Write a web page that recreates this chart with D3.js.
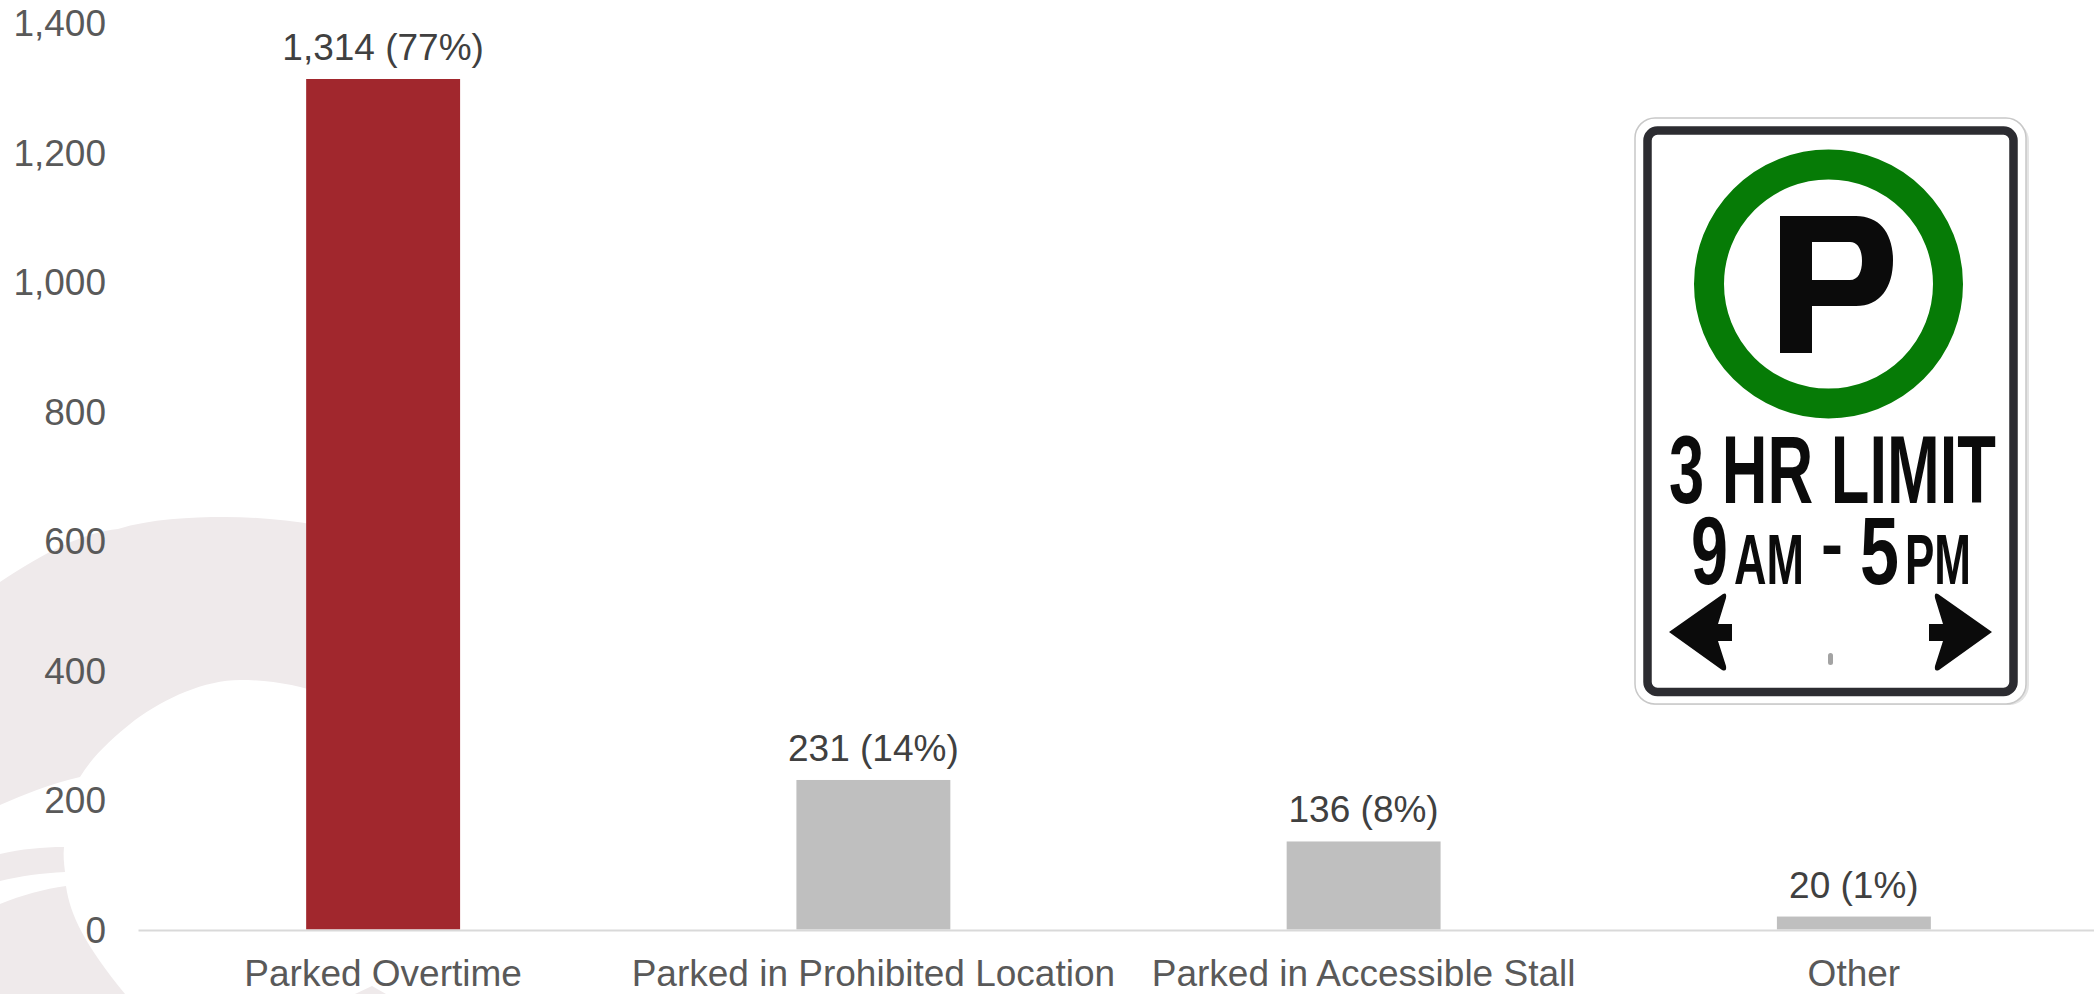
<!DOCTYPE html>
<html>
<head>
<meta charset="utf-8">
<title>Parking violations by type</title>
<script src="https://cdn.jsdelivr.net/npm/d3@7/dist/d3.min.js"></script>
<style>
  html, body { margin: 0; padding: 0; background: #fff; overflow: hidden; }
  svg { display: block; }
  text { font-family: "Liberation Sans", Arial, sans-serif; }
</style>
</head>
<body>
<svg id="chart" width="2094" height="994"></svg>
<script>
// Violation counts by type
const categories = ["Parked Overtime", "Parked in Prohibited Location", "Parked in Accessible Stall", "Other"];
const counts = [1314, 231, 136, 20];
const shares = [77, 14, 8, 1];
const highlighted = ["Parked Overtime"];
const valueTicks = [0, 200, 400, 600, 800, 1000, 1200, 1400];

// Parking sign wording
const signLines = [
  { text: "3 HR LIMIT", x: 1669, end: 1996, base: 502.5, size: 97 },
  { text: "9", x: 1691, end: 1728, base: 584, size: 96 },
  { text: "AM", x: 1734, end: 1804, base: 583.5, size: 70 },
  { text: "-", x: 1821, end: 1843, base: 568, size: 70 },
  { text: "5", x: 1860, end: 1899, base: 584, size: 96 },
  { text: "PM", x: 1905, end: 1971, base: 583.5, size: 70 }
];

const svg = d3.select("#chart");
const plot = { left: 138, right: 2099, baseline: 929.5, topValue: 1314, topY: 79 };
const fontSize = 37;

const x = d3.scaleBand().domain(categories).range([plot.left, plot.right]).paddingInner(0.686).paddingOuter(0.343);
const y = d3.scaleLinear().domain([0, plot.topValue]).range([plot.baseline, plot.topY]);

// Pale swirl watermark in the lower-left corner
const swirl = svg.append("g").attr("fill", "#efeaeb");
swirl.append("path").attr("d",
  "M0,582 C45,552 85,532 118,529 C150,519 190,517 225,517 C275,517 330,525 380,540 " +
  "L380,722 C345,700 300,680 240,680 C205,680 165,698 135,720 C110,740 92,757 80,777 " +
  "C50,784 25,794 0,805 Z");
swirl.append("path").attr("d",
  "M0,854 C22,849 42,847 64,847 C63,855 64,864 65,872 C42,873 20,876 0,881 Z");
swirl.append("path").attr("d",
  "M0,904 C22,895 44,889 66,886 C70,915 85,945 125,994 L0,994 Z");
swirl.append("path").attr("d", "M355,994 L372,986 L386,994 Z");

// Bars
svg.append("g").selectAll("rect").data(categories).join("rect")
  .attr("x", d => x(d))
  .attr("width", x.bandwidth())
  .attr("y", (d, i) => y(counts[i]))
  .attr("height", (d, i) => y(0) - y(counts[i]))
  .attr("fill", d => highlighted.includes(d) ? "#a1272d" : "#bfbfbf");

// Category axis
const xAxis = svg.append("g")
  .attr("transform", `translate(0,${plot.baseline + 0.5})`)
  .call(d3.axisBottom(x).tickSize(0).tickPadding(0));
xAxis.select(".domain").attr("stroke", "#d9d9d9").attr("stroke-width", 2);
xAxis.selectAll("text")
  .attr("y", 56).attr("dy", 0)
  .attr("font-size", fontSize).attr("fill", "#595959");

// Value axis
const yAxis = svg.append("g")
  .attr("transform", "translate(106,0)")
  .call(d3.axisLeft(y).tickValues(valueTicks).tickFormat(d3.format(",")).tickSize(0).tickPadding(0));
yAxis.select(".domain").remove();
yAxis.selectAll("text")
  .attr("x", 0).attr("dy", 12.5)
  .attr("font-size", fontSize).attr("fill", "#595959");

// Value labels above each bar
svg.append("g").selectAll("text").data(categories).join("text")
  .attr("x", d => x(d) + x.bandwidth() / 2)
  .attr("y", (d, i) => y(counts[i]) - 19)
  .attr("text-anchor", "middle")
  .attr("font-size", fontSize)
  .attr("fill", "#404040")
  .text((d, i) => `${d3.format(",")(counts[i])} (${shares[i]}%)`);

// Parking sign
const sign = svg.append("g");
sign.append("rect").attr("x", 1638).attr("y", 121).attr("width", 391).attr("height", 584)
  .attr("rx", 20).attr("fill", "#e4e4e4");
sign.append("rect").attr("x", 1635).attr("y", 118).attr("width", 391).attr("height", 586)
  .attr("rx", 20).attr("fill", "#fff").attr("stroke", "#c8c8c8").attr("stroke-width", 1.5);
sign.append("rect").attr("x", 1647.5).attr("y", 130.5).attr("width", 366).attr("height", 561.5)
  .attr("rx", 10).attr("fill", "#fff").attr("stroke", "#2c2c31").attr("stroke-width", 8.5);
sign.append("circle").attr("cx", 1828.5).attr("cy", 284).attr("r", 119.5)
  .attr("fill", "none").attr("stroke", "#067b06").attr("stroke-width", 30);
sign.append("path").attr("fill", "#0b0b0b").attr("fill-rule", "evenodd").attr("d",
  "M1780,216 L1856,216 C1880,216 1893,234 1893,260 C1893,288 1880,306 1856,306 L1812,306 L1812,353 L1780,353 Z " +
  "M1812,242 L1812,280 L1850,280 C1858,280 1862,272 1862,261 C1862,250 1858,242 1850,242 Z");

// Sign wording is condensed horizontally to the width of each run
sign.selectAll("text").data(signLines).join("text")
  .attr("font-size", d => d.size)
  .attr("font-weight", "bold")
  .attr("fill", "#0b0b0b")
  .text(d => d.text)
  .attr("transform", function(d) {
    const squeeze = (d.end - d.x) / this.getComputedTextLength();
    return `translate(${d.x},${d.base}) scale(${squeeze},1)`;
  });

sign.append("path").attr("fill", "#0b0b0b")
  .attr("d", "M1669,632 L1723,594 Q1727,592 1726,598 L1718,624 L1732,624 L1732,641 L1718,641 L1726,666 Q1727,672 1722,670 Z");
sign.append("path").attr("fill", "#0b0b0b")
  .attr("d", "M1992,632 L1938,594 Q1934,592 1935,598 L1943,624 L1929,624 L1929,641 L1943,641 L1935,666 Q1934,672 1939,670 Z");
sign.append("rect").attr("x", 1828).attr("y", 653).attr("width", 5).attr("height", 12)
  .attr("rx", 2.5).attr("fill", "#a3a3a3");
</script>
</body>
</html>
